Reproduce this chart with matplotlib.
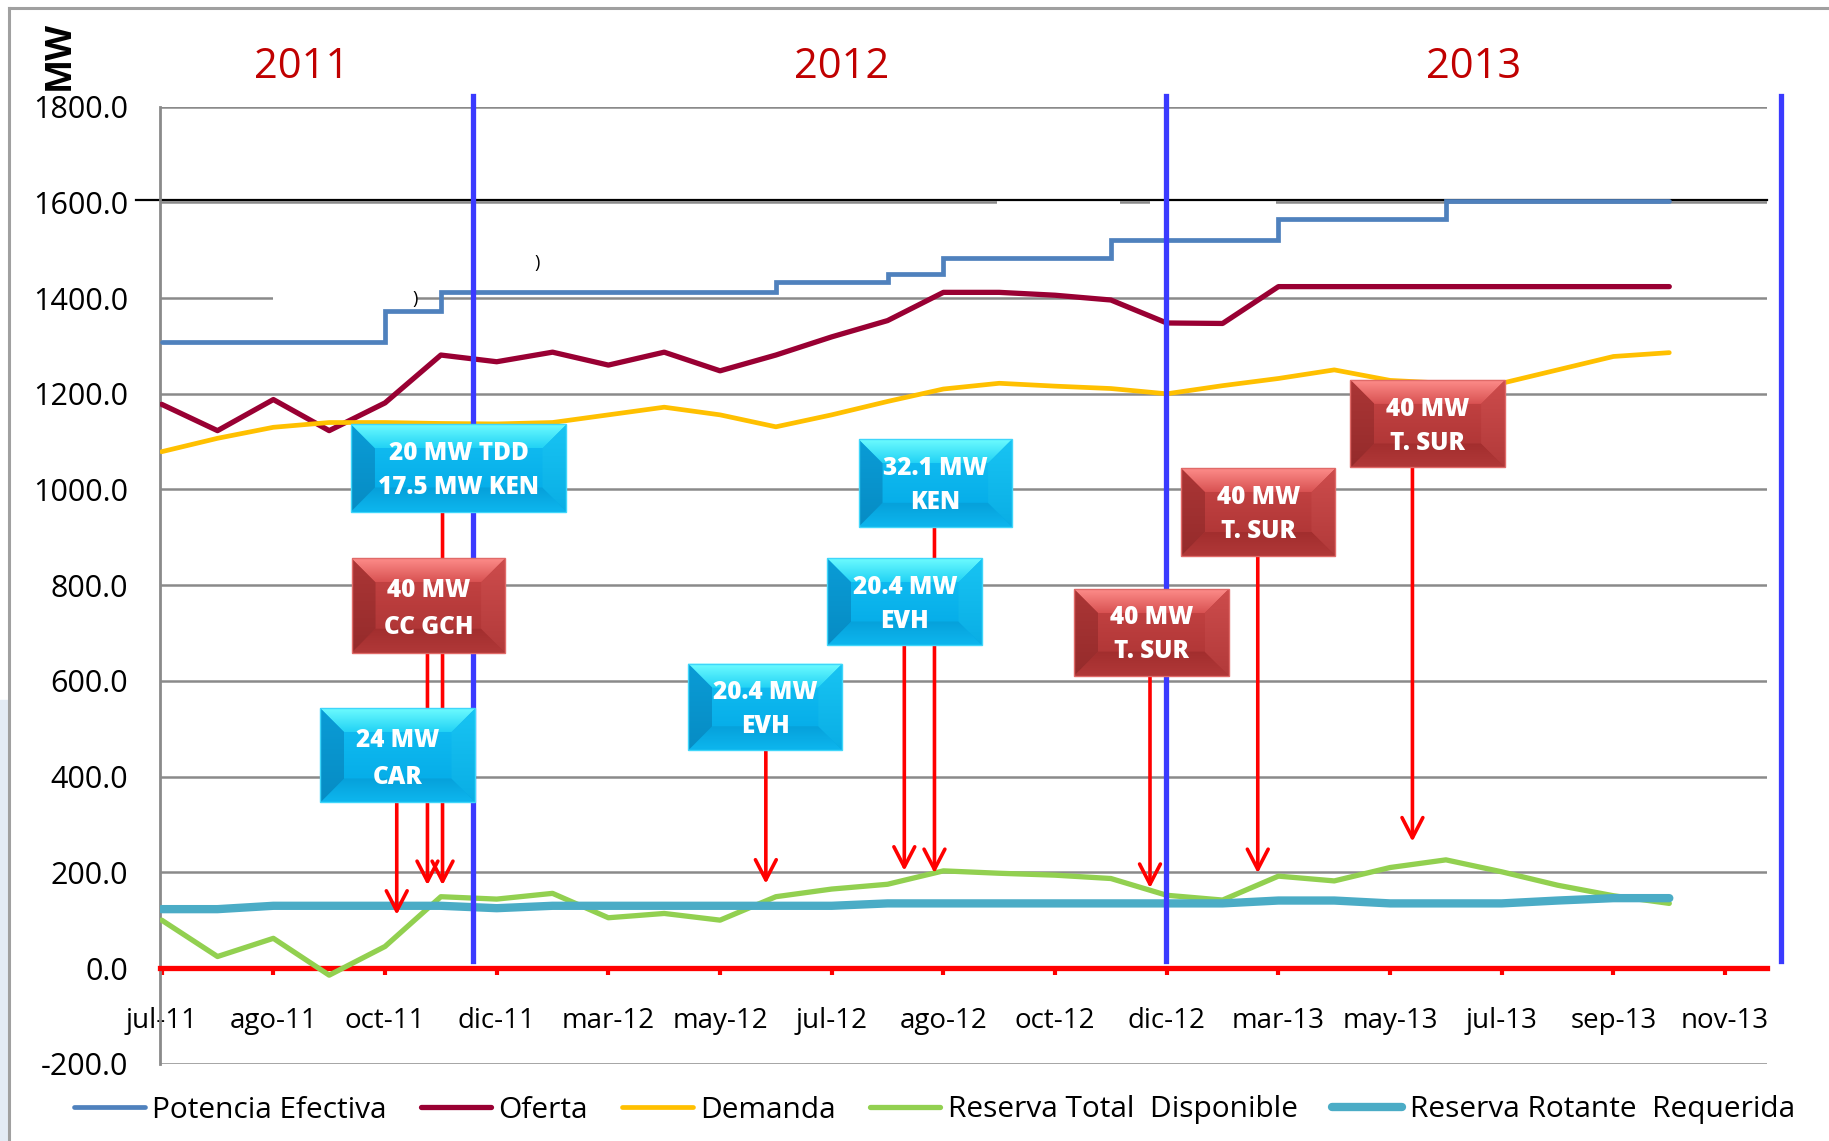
import numpy as np
import matplotlib
matplotlib.use("Agg")
import matplotlib.pyplot as plt
from matplotlib.patches import Polygon, Rectangle
from matplotlib.lines import Line2D
from matplotlib.colors import to_rgb

plt.rcParams['font.family'] = ['Open Sans', 'DejaVu Sans']

# ---------------- data ----------------
tick_labels = ['jul-11', 'ago-11', 'oct-11', 'dic-11', 'mar-12', 'may-12', 'jul-12',
               'ago-12', 'oct-12', 'dic-12', 'mar-13', 'may-13', 'jul-13', 'sep-13', 'nov-13']

potencia = [1308, 1308, 1308, 1308, 1374, 1412, 1412, 1412, 1412, 1412, 1412, 1434, 1434, 1451,
            1483, 1483, 1483, 1521, 1521, 1521, 1565, 1565, 1565, 1603, 1603, 1603, 1603, 1603]
oferta = [1178, 1123, 1188, 1123, 1181, 1281, 1267, 1287, 1260, 1287, 1248, 1281, 1319, 1353,
          1412, 1412, 1406, 1396, 1348, 1347, 1424, 1424, 1424, 1424, 1424, 1424, 1424, 1424]
demanda = [1079, 1107, 1130, 1140, 1140, 1138, 1137, 1140, 1156, 1172, 1156, 1131, 1156, 1184,
           1210, 1222, 1216, 1211, 1200, 1217, 1232, 1250, 1228, 1222, 1222, 1250, 1278, 1286]
reserva_total = [100, 24, 62, -15, 45, 149, 144, 156, 105, 114, 100, 149, 165, 175,
                 203, 198, 194, 187, 152, 142, 192, 182, 210, 226, 201, 173, 151, 135]
reserva_rot = [123, 123, 130, 130, 130, 130, 125, 130, 130, 130, 130, 130, 130, 135,
               135, 135, 135, 135, 135, 135, 141, 141, 135, 135, 135, 141, 146, 146]

series_names = ['Potencia Efectiva', 'Oferta', 'Demanda', 'Reserva Total  Disponible',
                'Reserva Rotante  Requerida']
series_colors = ['#4F81BD', '#990033', '#FFC000', '#92D050', '#4BACC6']
series_lw = [3.4, 3.8, 3.4, 3.8, 6.0]

years = ['2011', '2012', '2013']
year_x = [2.51, 12.17, 23.5]
year_sep_x = [5.58, 17.98, 29.0]

# annotation boxes: label, x0, x1, y0, y1, kind, arrow x, arrow tip
box_labels = ['20 MW TDD\n17.5 MW KEN', '40 MW\nCC GCH', '24 MW\nCAR', '20.4 MW\nEVH',
              '32.1 MW\nKEN', '20.4 MW\nEVH', '40 MW\nT. SUR', '40 MW\nT. SUR', '40 MW\nT. SUR']
box_x0 = [3.39, 3.40, 2.84, 9.43, 12.48, 11.92, 16.34, 18.26, 21.29]
box_x1 = [7.25, 6.15, 5.62, 12.19, 15.23, 14.70, 19.11, 21.02, 24.06]
box_y0 = [954, 659, 346, 455, 922, 674, 611, 862, 1046]
box_y1 = [1136, 856, 543, 636, 1105, 856, 792, 1044, 1229]
box_kind = ['c', 'r', 'c', 'c', 'c', 'c', 'r', 'r', 'r']
arrow_x = [5.03, 4.76, 4.21, 10.82, 13.84, 13.30, 17.70, 19.63, 22.40]
arrow_tip = [173, 173, 111, 176, 198, 203, 167, 198, 264]

# ---------------- figure ----------------
W, H = 1829, 1141
fig = plt.figure(figsize=(W / 100, H / 100), dpi=100)
ax = fig.add_axes([160 / W, 1 - 1063.7 / H, (1767 - 160) / W, (1063.7 - 106.7) / H])
XL = (-0.03, 28.75)
YL = (-200, 1800)
ax.set_xlim(*XL)
ax.set_ylim(*YL)

x = np.arange(len(potencia))

# grid & axes
ax.set_axisbelow(True)
ax.set_yticks(np.arange(-200, 1801, 200))
ax.yaxis.set_major_formatter(matplotlib.ticker.FormatStrFormatter('%.1f'))
ax.yaxis.grid(True, color='#8a8a8a', lw=1.8, zorder=0.5)
ax.set_xticks(np.arange(0, 2 * len(tick_labels), 2))
ax.set_xticklabels(tick_labels)
ax.tick_params(axis='x', colors='red', labelcolor='black', length=5, width=3,
               direction='out', pad=23, labelsize=20)
ax.tick_params(axis='y', length=0, pad=23, labelsize=22, labelcolor='black')
for s in ['top', 'right']:
    ax.spines[s].set_visible(False)
ax.spines['left'].set_color('#8a8a8a')
ax.spines['left'].set_linewidth(2.0)
ax.spines['bottom'].set_position(('data', 0))
ax.spines['bottom'].set_color('red')
ax.spines['bottom'].set_linewidth(3.8)

# small white gaps in gridlines (as in the original)
ax.add_patch(Rectangle((2.0, 1392), 2.57, 16, facecolor='white', edgecolor='none', zorder=0.8))
ax.add_patch(Rectangle((14.96, 1594), 2.21, 10, facecolor='white', edgecolor='none', zorder=0.8))
ax.add_patch(Rectangle((17.70, 1594), 2.26, 10, facecolor='white', edgecolor='none', zorder=0.8))
# black horizontal line near 1600
ax.plot([-0.46, XL[1]], [1605, 1605], color='black', lw=1.6, zorder=1.5, clip_on=False)

# data lines
data = [potencia, oferta, demanda, reserva_total, reserva_rot]
for i, (vals, c, lw) in enumerate(zip(data, series_colors, series_lw)):
    kw = dict(drawstyle='steps-post') if i == 0 else {}
    ax.plot(x, vals, color=c, lw=lw, zorder=3, solid_capstyle='round',
            solid_joinstyle='miter' if i == 0 else 'round', **kw)

# year separators
for xs in year_sep_x:
    ax.plot([xs, xs], [14.6, 1822], color='#3A3AFF', lw=3.8, zorder=3.5, clip_on=False)
for yt, yx in zip(years, year_x):
    ax.text(yx, 1884, yt, color='#C00000', fontsize=30, ha='center', va='center', clip_on=False)

# stray characters from the original
ax.text(4.54, 1398, ')', fontsize=13, ha='center', va='center', zorder=6)
ax.text(6.73, 1473, ')', fontsize=13, ha='center', va='center', zorder=6)

# arrows
for bx, by0, ax_, tip in zip(box_labels, box_y0, arrow_x, arrow_tip):
    ax.annotate('', xy=(ax_, tip), xytext=(ax_, by0),
                arrowprops=dict(arrowstyle='->,head_length=1.45,head_width=0.75', color='red',
                                lw=2.6, shrinkA=0, shrinkB=0, mutation_scale=10),
                zorder=4)

# bevelled boxes
pal = {
    'c': dict(top=('#70FDFF', '#22D2F5'), center=('#14C0F3', '#02A8E6'),
              left=('#0A9CD6', '#078CC4'), right=('#18C4F3', '#0AAEE5'),
              bottom=('#06A0DA', '#0DB6EE'), edge='#3FD6FA'),
    'r': dict(top=('#FF8F8C', '#D85252'), center=('#C94646', '#A93232'),
              left=('#AB3636', '#952B2B'), right=('#CD4C4C', '#B23A3A'),
              bottom=('#A22E2E', '#B13838'), edge='#E06A68'),
}


def grad_poly(verts, c_top, c_bot, z):
    poly = Polygon(verts, closed=True, transform=ax.transData, facecolor='none',
                   edgecolor='none')
    ax.add_patch(poly)
    xs_ = [v[0] for v in verts]
    ys_ = [v[1] for v in verts]
    t = np.linspace(0, 1, 64)[:, None]
    img = (np.array(to_rgb(c_top)) * (1 - t) + np.array(to_rgb(c_bot)) * t)[:, None, :]
    im = ax.imshow(img, extent=(min(xs_), max(xs_), min(ys_), max(ys_)), origin='upper',
                   aspect='auto', zorder=z, interpolation='bilinear')
    im.set_clip_path(poly)


p0 = ax.transData.transform((0, 0))
p1 = ax.transData.transform((1, 1))
px_x = p1[0] - p0[0]
px_y = p1[1] - p0[1]
inset = 24.0
for lab, x0, x1, y0, y1, k in zip(box_labels, box_x0, box_x1, box_y0, box_y1, box_kind):
    P = pal[k]
    dx = inset / px_x
    dy = inset / px_y
    z = 5
    grad_poly([(x0, y0), (x1, y0), (x1, y1), (x0, y1)], *P['center'], z)
    grad_poly([(x0, y1), (x1, y1), (x1 - dx, y1 - dy), (x0 + dx, y1 - dy)], *P['top'], z + 0.1)
    grad_poly([(x0, y0), (x1, y0), (x1 - dx, y0 + dy), (x0 + dx, y0 + dy)], *P['bottom'], z + 0.1)
    grad_poly([(x0, y0), (x0 + dx, y0 + dy), (x0 + dx, y1 - dy), (x0, y1)], *P['left'], z + 0.1)
    grad_poly([(x1, y0), (x1 - dx, y0 + dy), (x1 - dx, y1 - dy), (x1, y1)], *P['right'], z + 0.1)
    ax.add_patch(Rectangle((x0, y0), x1 - x0, y1 - y0, fill=False, edgecolor=P['edge'],
                           lw=1.0, zorder=z + 0.2))
    h = y1 - y0
    xc = (x0 + x1) / 2
    l1, l2 = lab.split('\n')
    ax.text(xc, y1 - 0.408 * h, l1, color='white', fontsize=17.5, fontweight=800,
            ha='center', va='baseline', zorder=6)
    ax.text(xc, y1 - 0.80 * h, l2, color='white', fontsize=17.5, fontweight=800,
            ha='center', va='baseline', zorder=6)

ax.set_xlim(*XL)
ax.set_ylim(*YL)

# axis title
fig.text(60 / W, 1 - 55 / H, 'MW', rotation=90, fontsize=26, fontweight='bold',
         ha='center', va='center')

# legend
handles = [Line2D([], [], color=c, lw=lw, solid_capstyle='round')
           for c, lw in zip(series_colors, series_lw)]
fig.legend(handles, series_names, loc='center', bbox_to_anchor=(0.511, 1 - 1110 / H), ncol=5,
           frameon=False, fontsize=21.5, handlelength=2.35, handletextpad=0.25,
           columnspacing=1.15, borderaxespad=0, borderpad=0)

# outer frame of the original slide chart
fig.add_artist(Line2D([9 / W, 9 / W], [0, 1 - 8 / H], color='#a0a0a0', lw=2.2,
                      transform=fig.transFigure))
fig.add_artist(Line2D([9 / W, 1], [1 - 8 / H, 1 - 8 / H], color='#a0a0a0', lw=2.2,
                      transform=fig.transFigure))
fig.add_artist(Rectangle((0, 0), 8 / W, 1 - 700 / H, color='#e3ebf5', transform=fig.transFigure,
                         zorder=-1))

fig.savefig('out.png', dpi=100)
